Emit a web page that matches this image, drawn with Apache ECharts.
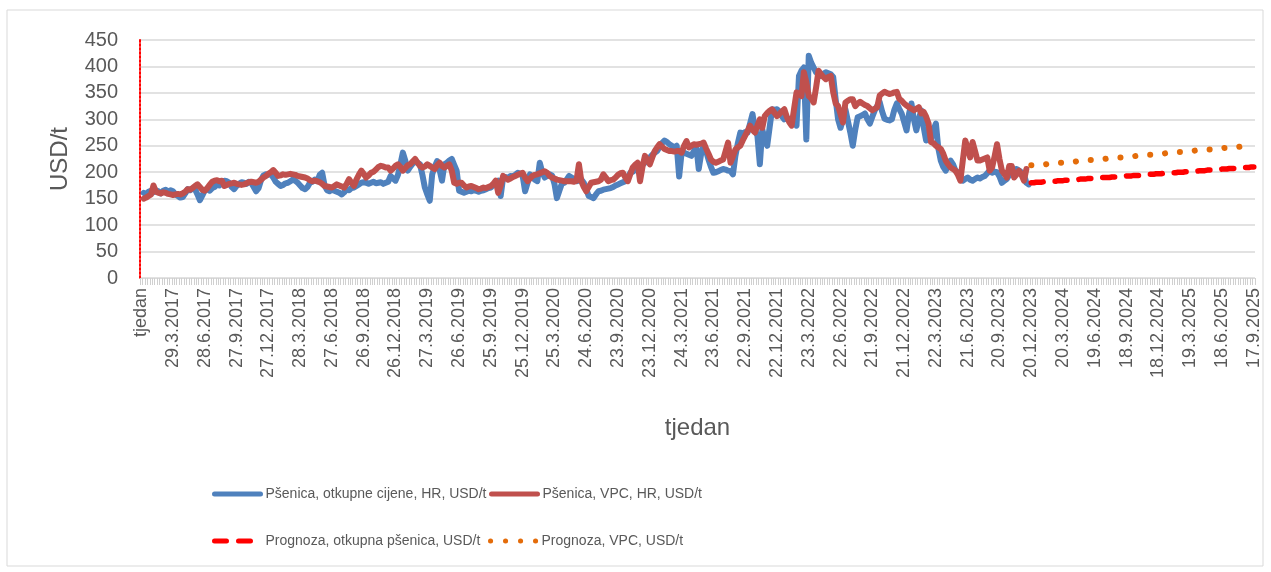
<!DOCTYPE html>
<html>
<head>
<meta charset="utf-8">
<script src="https://cdn.jsdelivr.net/npm/echarts@6/dist/echarts.min.js"></script>
<style>
    html, body { margin: 0; padding: 0; background: #fff; }
    #main { width: 1271px; height: 572px; }
</style>
</head>
<body>
<div id="main"></div>
<script>
// tjedni podaci od 4.1.2017, prva kategorija je zaglavlje "tjedan"
var startDate = Date.UTC(2017, 0, 4);
var weekCount = 455;

var seriesNames = [
    'Pšenica, otkupne cijene, HR, USD/t',
    'Pšenica, VPC, HR, USD/t',
    'Prognoza, otkupna pšenica, USD/t',
    'Prognoza, VPC, USD/t'
];

// otkupne cijene, USD/t (tjedan 1 - 363)
var otkupne = [
    161, 158, 163, 165, 162, 166, 164, 160, 165, 167,
    163, 166, 164, 158, 155, 152, 153, 160, 168, 166,
    169, 168, 158, 147, 156, 166, 168, 165, 170, 172,
    177, 175, 181, 184, 183, 180, 172, 168, 174, 178,
    181, 180, 178, 182, 180, 172, 164, 170, 185, 194,
    196, 195, 197, 190, 182, 178, 174, 176, 179, 180,
    183, 186, 184, 180, 175, 170, 168, 172, 180, 182,
    186, 183, 195, 199, 175, 166, 164, 167, 165, 163,
    161, 158, 162, 168, 166, 170, 171, 174, 177, 180,
    181, 180, 178, 180, 182, 179, 180, 181, 178, 180,
    182, 193, 188, 184, 195, 215, 237, 222, 203, 210,
    216, 221, 218, 215, 195, 171, 158, 146, 196, 210,
    221, 205, 184, 215, 218, 222, 225, 214, 203, 165,
    163, 161, 163, 165, 164, 166, 165, 163, 165, 166,
    168, 170, 171, 176, 180, 184, 155, 190, 191, 189,
    193, 192, 195, 199, 197, 193, 164, 180, 196, 190,
    186, 183, 218, 200, 190, 193, 196, 194, 178, 151,
    165, 178, 180, 186, 193, 190, 187, 183, 184, 186,
    180, 168, 155, 153, 151, 158, 164, 165, 167, 168,
    169, 170, 172, 175, 177, 179, 181, 183, 190, 199,
    201, 204, 205, 210, 214, 218, 222, 228, 233, 237,
    240, 248, 255, 260, 257, 253, 250, 247, 250, 192,
    237, 237, 235, 233, 231, 240, 250, 206, 235, 250,
    240, 224, 210, 199, 200, 202, 204, 206, 205, 203,
    202, 196, 231, 255, 275, 273, 276, 275, 292, 310,
    280, 269, 215, 281, 262, 250, 285, 319, 318, 319,
    315, 306, 300, 302, 301, 300, 296, 288, 382, 392,
    398, 262, 420, 407, 398, 389, 385, 382, 386, 389,
    387, 385, 380, 338, 300, 284, 300, 319, 297, 275,
    250, 280, 304, 306, 308, 311, 300, 292, 305, 317,
    325, 333, 315, 301, 299, 298, 300, 318, 330, 320,
    311, 295, 279, 310, 330, 300, 279, 300, 317, 285,
    260, 262, 263, 280, 292, 245, 222, 210, 203, 212,
    222, 215, 203, 200, 190, 184, 187, 190, 186, 184,
    187, 190, 188, 191, 193, 198, 203, 199, 201, 200,
    192, 180, 184, 187, 195, 203, 205, 206, 203, 200,
    196, 180, 177
];

// VPC, USD/t (tjedan 1 - 362)
var vpc = [
    150, 152, 155, 158, 175, 163, 161, 160, 162, 161,
    159, 158, 157, 158, 159, 158, 160, 163, 168, 167,
    170, 174, 177, 172, 167, 165, 170, 176, 182, 184,
    185, 183, 184, 174, 176, 178, 179, 180, 178, 177,
    176, 177, 179, 181, 182, 181, 180, 182, 186, 190,
    193, 197, 200, 204, 199, 193, 194, 196, 195, 196,
    197, 196, 195, 193, 192, 191, 190, 188, 185, 183,
    184, 183, 181, 178, 174, 173, 172, 171, 174, 177,
    175, 173, 171, 178, 187, 180, 174, 186, 195, 203,
    197, 190, 194, 199, 201, 205, 210, 212, 211, 209,
    209, 203, 207, 212, 215, 210, 203, 208, 213, 215,
    220, 225, 218, 212, 209, 211, 215, 212, 209, 206,
    213, 218, 212, 209, 212, 215, 203, 180, 178, 180,
    180, 175, 171, 173, 174, 172, 170, 168, 169, 171,
    170, 172, 174, 178, 184, 161, 175, 193, 189, 186,
    188, 191, 193, 195, 197, 199, 190, 183, 188, 193,
    195, 196, 198, 200, 202, 199, 193, 190, 188, 186,
    185, 184, 183, 183, 183, 183, 182, 184, 215, 183,
    172, 164, 172, 180, 181, 182, 183, 186, 196, 190,
    183, 185, 186, 190, 195, 198, 199, 190, 183, 196,
    209, 214, 218, 183, 210, 231, 223, 215, 228, 240,
    247, 253, 248, 244, 242, 240, 240, 239, 240, 240,
    237, 250, 259, 247, 250, 253, 252, 253, 254, 256,
    245, 235, 224, 220, 218, 220, 222, 224, 240, 256,
    218, 230, 243, 247, 250, 260, 269, 278, 288, 280,
    275, 288, 300, 284, 306, 312, 316, 319, 312, 306,
    310, 315, 319, 305, 295, 288, 320, 351, 348, 344,
    389, 370, 344, 340, 332, 360, 392, 385, 380, 376,
    380, 382, 351, 330, 325, 310, 294, 332, 335, 338,
    338, 325, 330, 333, 330, 327, 325, 321, 317, 320,
    323, 345, 349, 352, 350, 348, 349, 351, 352, 339,
    335, 330, 326, 323, 320, 317, 320, 323, 311, 314,
    305, 292, 257, 255, 250, 247, 244, 235, 222, 215,
    209, 206, 203, 195, 184, 222, 260, 245, 228, 257,
    240, 222, 222, 224, 226, 228, 203, 209, 230, 253,
    225, 203, 197, 190, 212, 212, 190, 196, 203, 195,
    184, 206
];

// prognoze od 20.12.2023 (tjedan 364 - 455)
var prognozaStart = 364;
var prognozaOtkupna = [
    180, 180, 181, 181, 181, 182, 182, 182, 183, 183,
    183, 184, 184, 184, 185, 185, 185, 186, 186, 186,
    187, 187, 187, 188, 188, 188, 189, 189, 189, 190,
    190, 190, 190, 191, 191, 191, 192, 192, 192, 193,
    193, 193, 194, 194, 194, 195, 195, 195, 196, 196,
    196, 197, 197, 197, 198, 198, 198, 199, 199, 199,
    200, 200, 200, 201, 201, 201, 202, 202, 202, 203,
    203, 203, 204, 204, 204, 205, 205, 205, 206, 206,
    206, 207, 207, 207, 208, 208, 208, 209, 209, 209,
    210, 210
];
var prognozaVpc = [
    213, 213, 214, 214, 215, 215, 215, 216, 216, 217,
    217, 217, 218, 218, 219, 219, 220, 220, 220, 221,
    221, 222, 222, 222, 223, 223, 224, 224, 225, 225,
    225, 226, 226, 227, 227, 227, 228, 228, 229, 229,
    230, 230, 230, 231, 231, 232, 232, 232, 233, 233,
    234, 234, 235, 235, 235, 236, 236, 237, 237, 237,
    238, 238, 239, 239, 240, 240, 240, 241, 241, 242,
    242, 242, 243, 243, 244, 244, 245, 245, 245, 246,
    246, 247, 247, 247, 248, 248, 249, 249, 250, 250,
    250, 251
];

// kategorije: "tjedan" + tjedni datumi
var categories = ['tjedan'];
for (var k = 0; k < weekCount; k++) {
    var d = new Date(startDate + k * 7 * 86400000);
    categories.push(d.getUTCDate() + '.' + (d.getUTCMonth() + 1) + '.' + d.getUTCFullYear());
}

function withOffset(values, offset) {
    var out = [];
    for (var i = 0; i < offset; i++) out.push(null);
    return out.concat(values);
}

var font = "'Liberation Sans', Arial, sans-serif";
var grey = '#595959';

var myChart = echarts.init(document.getElementById('main'));

function legendAt(name, left, top) {
    return {
        data: [name],
        left: left,
        top: top,
        padding: 0,
        itemGap: 0,
        itemWidth: 46,
        itemHeight: 14,
        itemStyle: {opacity: 0},
        lineStyle: {width: 5},
        textStyle: {fontSize: 14, color: grey, fontFamily: font}
    };
}

var option = {
    animation: false,
    backgroundColor: '#fff',
    textStyle: {fontFamily: font},
    graphic: [{
        type: 'rect',
        shape: {x: 7, y: 10, width: 1256, height: 556},
        style: {fill: 'none', stroke: '#d9d9d9', lineWidth: 1},
        silent: true
    }],
    legend: [
        legendAt(seriesNames[0], 212, 487),
        legendAt(seriesNames[1], 489, 487),
        legendAt(seriesNames[2], 212, 534),
        legendAt(seriesNames[3], 488, 534)
    ],
    grid: {left: 140, right: 16, top: 40, bottom: 294, containLabel: false},
    xAxis: {
        type: 'category',
        data: categories,
        boundaryGap: true,
        axisLine: {lineStyle: {color: '#d9d9d9', width: 1}},
        axisTick: {show: true, interval: 0, length: 7, lineStyle: {color: '#d0d0d0'}},
        axisLabel: {interval: 12, rotate: 90, color: grey, fontSize: 18, margin: 10},
        splitLine: {show: false},
        name: 'tjedan',
        nameLocation: 'middle',
        nameGap: 138,
        nameTextStyle: {fontSize: 24, color: grey}
    },
    yAxis: {
        type: 'value',
        min: 0,
        max: 450,
        interval: 50,
        axisLine: {show: true, lineStyle: {color: '#ff0000', width: 2, type: [2, 2]}},
        axisTick: {show: false},
        axisLabel: {color: grey, fontSize: 20, margin: 22},
        splitLine: {lineStyle: {color: '#d9d9d9', width: 1.5}},
        name: 'USD/t',
        nameLocation: 'middle',
        nameGap: 68,
        nameTextStyle: {fontSize: 24, color: grey}
    },
    series: [
        {
            name: seriesNames[0],
            type: 'line',
            data: withOffset(otkupne, 1),
            symbol: 'none',
            z: 2,
            itemStyle: {color: '#4F81BD'},
            lineStyle: {color: '#4F81BD', width: 6, cap: 'round', join: 'round'}
        },
        {
            name: seriesNames[1],
            type: 'line',
            data: withOffset(vpc, 1),
            symbol: 'none',
            z: 3,
            itemStyle: {color: '#C0504D'},
            lineStyle: {color: '#C0504D', width: 6, cap: 'round', join: 'round'}
        },
        {
            name: seriesNames[2],
            type: 'line',
            data: withOffset(prognozaOtkupna, prognozaStart),
            symbol: 'none',
            z: 4,
            itemStyle: {color: '#FF0000'},
            lineStyle: {color: '#FF0000', width: 5.5, type: [12, 12], cap: 'round'}
        },
        {
            name: seriesNames[3],
            type: 'line',
            data: withOffset(prognozaVpc, prognozaStart),
            symbol: 'none',
            z: 4,
            itemStyle: {color: '#E46C0A'},
            lineStyle: {color: '#E46C0A', width: 6, type: [0.1, 14.9], cap: 'round'}
        }
    ]
};

myChart.setOption(option);

window.addEventListener('resize', function() {
    myChart.resize();
});
</script>
</body>
</html>
